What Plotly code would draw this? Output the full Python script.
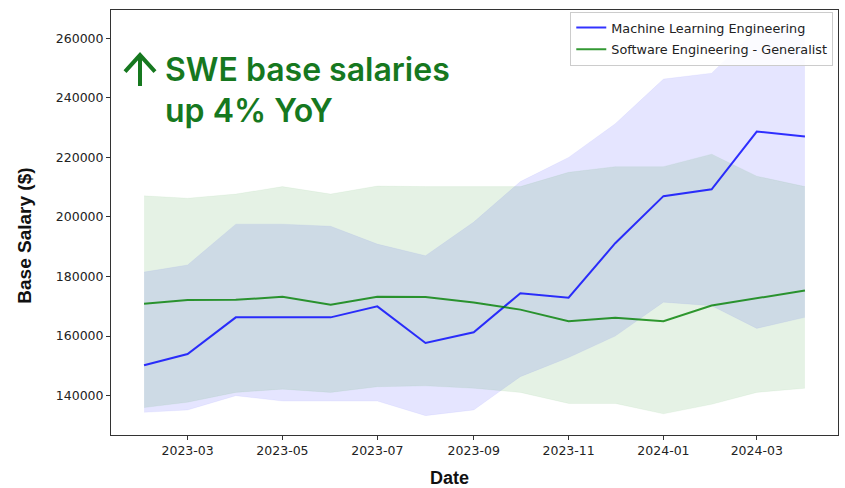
import plotly.graph_objects as go

# ---- data ----
dates = ["2023-02-01", "2023-03-01", "2023-04-01", "2023-05-01", "2023-06-01",
         "2023-07-01", "2023-08-01", "2023-09-01", "2023-10-01", "2023-11-01",
         "2023-12-01", "2024-01-01", "2024-02-01", "2024-03-01", "2024-04-01"]

ml_mean = [150200, 154000, 166300, 166300, 166300, 170000, 157700, 161300,
           174400, 172900, 191200, 207000, 209300, 228700, 227000]
ml_upper = [181500, 183900, 197600, 197600, 196900, 190900, 187000, 198300,
            211900, 220000, 231300, 246300, 248300, 263000, 263000]
ml_lower = [134400, 135200, 140000, 138200, 138200, 138200, 133300, 135200,
            146400, 152800, 160000, 171400, 170200, 162600, 166300]

swe_mean = [170900, 172100, 172200, 173200, 170500, 173200, 173100, 171300,
            168900, 165000, 166200, 165000, 170300, 172800, 175300]
swe_upper = [207100, 206300, 207700, 210200, 207700, 210400, 210200, 210300,
             210200, 215000, 216900, 216900, 221100, 213700, 210200]
swe_lower = [136000, 137800, 141100, 142200, 141100, 143000, 143300, 142500,
             141100, 137400, 137400, 133900, 137100, 141100, 142500]

x_tickvals = ["2023-03-01", "2023-05-01", "2023-07-01", "2023-09-01",
              "2023-11-01", "2024-01-01", "2024-03-01"]
x_ticktext = ["2023-03", "2023-05", "2023-07", "2023-09", "2023-11",
              "2024-01", "2024-03"]
y_tickvals = [140000, 160000, 180000, 200000, 220000, 240000, 260000]

ml_name = "Machine Learning Engineering"
swe_name = "Software Engineering - Generalist"

# ---- styles ----
ML_LINE = "rgba(0,0,255,0.8)"
ML_FILL = "rgba(0,0,255,0.1)"
SWE_LINE = "rgba(0,128,0,0.8)"
SWE_FILL = "rgba(0,128,0,0.1)"
TXT_GREEN = "#16781f"
TICK_FONT = dict(family="DejaVu Sans", size=12.5, color="#222")
TITLE_FONT = dict(family="Liberation Sans", size=19, color="#111", weight="bold")

fig = go.Figure()

# bands
for lo, hi, fc, lc, grp in [(ml_lower, ml_upper, ML_FILL, "rgba(0,0,255,0.06)", "ml"),
                            (swe_lower, swe_upper, SWE_FILL, "rgba(0,128,0,0.06)", "swe")]:
    fig.add_trace(go.Scatter(x=dates, y=lo, mode="lines", legendgroup=grp,
                             line=dict(width=0.8, color=lc),
                             showlegend=False, hoverinfo="skip"))
    fig.add_trace(go.Scatter(x=dates, y=hi, mode="lines", fill="tonexty",
                             legendgroup=grp,
                             fillcolor=fc, line=dict(width=0.8, color=lc),
                             showlegend=False, hoverinfo="skip"))

# mean lines
fig.add_trace(go.Scatter(x=dates, y=ml_mean, mode="lines", name=ml_name,
                         legendgroup="ml",
                         line=dict(color=ML_LINE, width=2)))
fig.add_trace(go.Scatter(x=dates, y=swe_mean, mode="lines", name=swe_name,
                         legendgroup="swe",
                         line=dict(color=SWE_LINE, width=2)))

fig.update_layout(
    width=845, height=488,
    margin=dict(l=111, r=7, t=10, b=53),
    paper_bgcolor="white", plot_bgcolor="white",
    showlegend=True,
    legend=dict(x=0.9935, y=0.996, xanchor="right", yanchor="top",
                traceorder="grouped",
                bgcolor="rgba(255,255,255,0.85)", bordercolor="#cccccc",
                borderwidth=1, font=dict(family="DejaVu Sans", size=12.8, color="#222"),
                itemwidth=30, tracegroupgap=2),
    xaxis=dict(type="date", range=["2023-01-10 18:00", "2024-04-22 06:00"],
               tickvals=x_tickvals, ticktext=x_ticktext,
               showgrid=False, zeroline=False,
               showline=True, mirror=True, linecolor="#333", linewidth=1,
               ticks="outside", ticklen=4, tickcolor="#333", tickwidth=1,
               tickfont=TICK_FONT),
    yaxis=dict(range=[126800, 269500], tickvals=y_tickvals, tickformat="d",
               showgrid=False, zeroline=False,
               showline=True, mirror=True, linecolor="#333", linewidth=1,
               ticks="outside", ticklen=4, tickcolor="#333", tickwidth=1,
               tickfont=TICK_FONT),
)

# axis titles (offset as in reference)
fig.add_annotation(text="Base Salary ($)", xref="paper", yref="paper",
                   x=-0.1183, y=0.469, textangle=-90,
                   xanchor="center", yanchor="middle", showarrow=False,
                   font=TITLE_FONT)
fig.add_annotation(text="Date", xref="paper", yref="paper", x=0.465, y=-0.1,
                   xanchor="center", yanchor="middle", showarrow=False,
                   font=dict(family="Liberation Sans", size=18, color="#111",
                             weight="bold"))

# headline annotation
fig.add_annotation(text="SWE base salaries", xref="paper", yref="paper",
                   x=0.072, y=0.861, xanchor="left", yanchor="middle",
                   showarrow=False,
                   font=dict(family="Inter", size=32, color=TXT_GREEN, weight=600))
fig.add_annotation(text="up 4% YoY", xref="paper", yref="paper",
                   x=0.072, y=0.764, xanchor="left", yanchor="middle",
                   showarrow=False,
                   font=dict(family="Inter", size=32, color=TXT_GREEN, weight=600))

# up-arrow icon
fig.add_shape(type="path", xref="paper", yref="paper",
              path="M 0.0193,0.8548 L 0.0399,0.894 L 0.0605,0.8548 "
                   "M 0.0399,0.894 L 0.0399,0.8212",
              line=dict(color=TXT_GREEN, width=4))

fig.write_html("out.html",
               config={"displayModeBar": False},
               post_script="document.body.style.margin='0px';"
                           "document.body.style.overflow='hidden';")
